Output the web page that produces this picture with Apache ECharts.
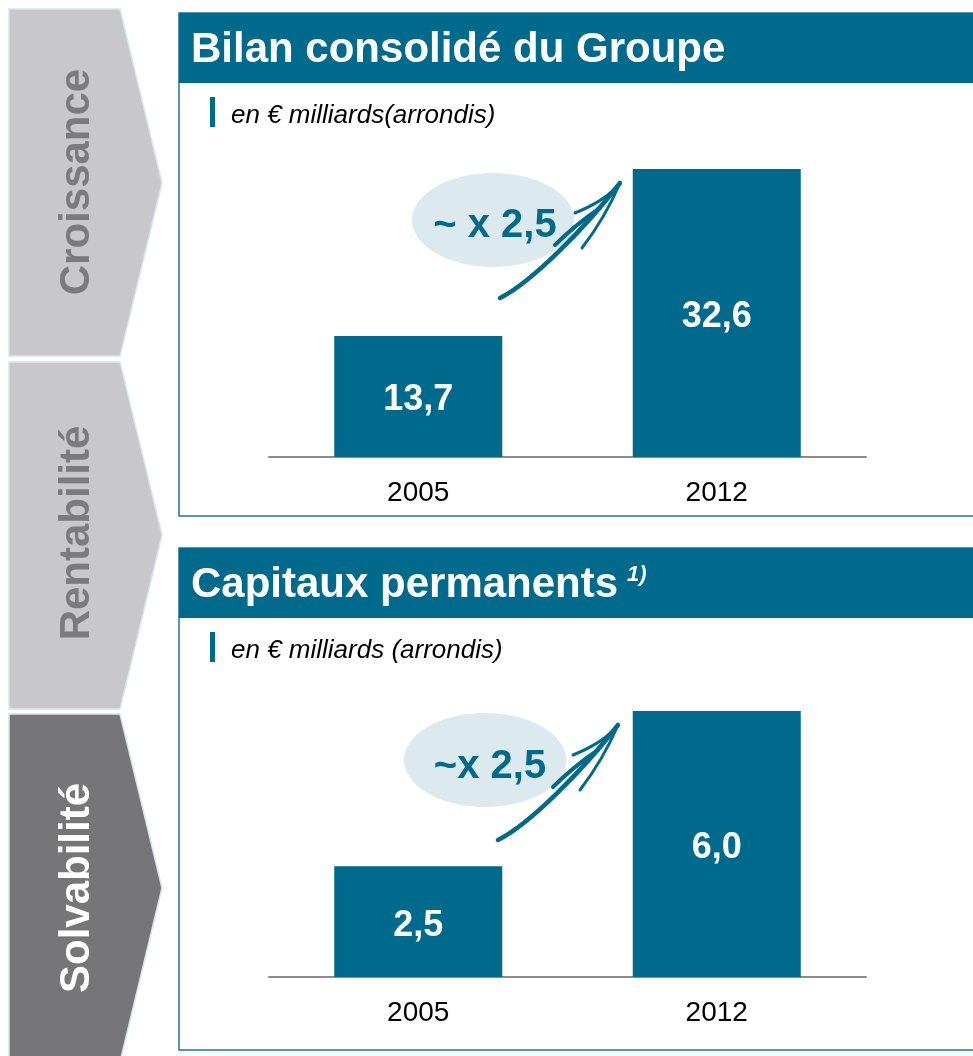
<!DOCTYPE html>
<html>
<head>
<meta charset="utf-8">
<title>Bilan consolidé / Capitaux permanents</title>
<script src="https://cdn.jsdelivr.net/npm/echarts@6/dist/echarts.min.js"></script>
<style>
  html, body { margin: 0; padding: 0; background: #fff; }
  #box { width: 973px; height: 1056px; }
</style>
</head>
<body>
<div id="box"></div>
<script>
// data
const years = ["2005", "2012"];
const bilanValues = [13.7, 32.6];
const capitauxValues = [2.5, 6.0];
const sideLabels = ["Croissance", "Rentabilité", "Solvabilité"];
const titles = ["Bilan consolidé du Groupe", "Capitaux permanents"];
const subtitles = ["en € milliards(arrondis)", "en € milliards (arrondis)"];
const growthLabels = ["~ x 2,5", "~x 2,5"];

const FONT = "'Liberation Sans', Arial, sans-serif";
const TEAL = "#006a8c";

function fmt(p) {
  return p.value.toFixed(1).replace(".", ",");
}

// chevrons on the left
function chevron(top, bottom, tipY, fill, textColor, label, textY) {
  return [
    {
      type: "polygon",
      shape: { points: [[9, top], [120, top], [162, tipY], [120, bottom], [9, bottom]] },
      style: { fill: fill, stroke: "#d6e6ec", lineWidth: 1.5 },
      z: 1
    },
    {
      type: "text",
      x: 77, y: textY,
      rotation: Math.PI / 2,
      style: {
        text: label, fill: textColor, font: "bold 42px " + FONT,
        align: "center", verticalAlign: "middle"
      },
      z: 2
    }
  ];
}

// panel frame with header + subtitle
function panel(top, bottom, title, sub) {
  return [
    {
      type: "rect",
      shape: { x: 179, y: top, width: 820, height: bottom - top },
      style: { fill: "none", stroke: "#1f779a", lineWidth: 1.5 },
      z: 1
    },
    {
      type: "rect",
      shape: { x: 179, y: top, width: 820, height: 70 },
      style: { fill: TEAL },
      z: 1
    },
    {
      type: "text", x: 191, y: top + 37,
      style: { text: title, fill: "#fff", font: "bold 42px " + FONT, verticalAlign: "middle" },
      z: 2
    },
    {
      type: "rect",
      shape: { x: 210, y: top + 84, width: 5, height: 30 },
      style: { fill: TEAL },
      z: 1
    },
    {
      type: "text", x: 231, y: top + 103,
      style: { text: sub, fill: "#000", font: "italic 26px " + FONT, verticalAlign: "middle" },
      z: 2
    }
  ];
}

// ellipse with the growth factor and the hand drawn arrow
function growth(cx, cy, label, tx, ty, dx, dy) {
  return [
    {
      type: "ellipse",
      shape: { cx: cx, cy: cy, rx: 81, ry: 47 },
      style: { fill: "#dce9ef" },
      z: 1
    },
    {
      type: "text", x: tx, y: ty,
      style: { text: label, fill: TEAL, font: "bold 40px " + FONT, align: "center", verticalAlign: "middle" },
      z: 2
    },
    {
      type: "bezierCurve",
      shape: { x1: 500 + dx, y1: 298 + dy, cpx1: 532 + dx, cpy1: 282 + dy, cpx2: 585 + dx, cpy2: 228 + dy, x2: 620 + dx, y2: 183 + dy },
      style: { stroke: TEAL, lineWidth: 4.5, fill: "none", lineCap: "round" },
      z: 3
    },
    {
      type: "bezierCurve",
      shape: { x1: 620 + dx, y1: 183 + dy, cpx1: 607 + dx, cpy1: 200 + dy, x2: 575 + dx, y2: 213 + dy },
      style: { stroke: TEAL, lineWidth: 3, fill: "none", lineCap: "round" },
      z: 3
    },
    {
      type: "bezierCurve",
      shape: { x1: 620 + dx, y1: 183 + dy, cpx1: 605 + dx, cpy1: 218 + dy, x2: 582 + dx, y2: 248 + dy },
      style: { stroke: TEAL, lineWidth: 3, fill: "none", lineCap: "round" },
      z: 3
    },
    {
      type: "bezierCurve",
      shape: { x1: 555 + dx, y1: 245 + dy, cpx1: 575 + dx, cpy1: 225 + dy, x2: 600 + dx, y2: 208 + dy },
      style: { stroke: TEAL, lineWidth: 4, fill: "none", lineCap: "round" },
      z: 3
    }
  ];
}

let graphics = []
  .concat(chevron(9, 356, 183, "#c8c8ca", "#7b7b7d", sideLabels[0], 182))
  .concat(chevron(362, 709, 535, "#c8c8ca", "#7b7b7d", sideLabels[1], 533))
  .concat(chevron(714, 1062, 888, "#767678", "#ffffff", sideLabels[2], 888))
  .concat(panel(13, 516, titles[0], subtitles[0]))
  .concat(panel(548, 1050, titles[1], subtitles[1]))
  .concat(growth(493, 220, growthLabels[0], 495, 226, 0, 0))
  .concat(growth(485, 760, growthLabels[1], 490, 767, -2, 542));

// superscript 1) after second title
graphics.push({
  type: "text", x: 627, y: 575,
  style: { text: "1)", fill: "#fff", font: "italic bold 22px " + FONT, verticalAlign: "middle" },
  z: 2
});

function xAx(idx) {
  return {
    type: "category",
    gridIndex: idx,
    data: years,
    axisTick: { show: false },
    axisLine: { lineStyle: { color: "#8c8c8c", width: 2 } },
    axisLabel: { color: "#000", fontSize: 28, fontFamily: FONT, margin: 22 }
  };
}

function yAx(idx) {
  return {
    type: "value",
    gridIndex: idx,
    min: 0,
    max: "dataMax",
    show: false,
    splitLine: { show: false }
  };
}

function barSeries(idx, data) {
  return {
    type: "bar",
    xAxisIndex: idx,
    yAxisIndex: idx,
    data: data,
    barWidth: 168,
    itemStyle: { color: TEAL },
    label: {
      show: true,
      position: "inside",
      offset: [0, 4],
      formatter: fmt,
      color: "#fff",
      fontSize: 36,
      fontWeight: "bold",
      fontFamily: FONT
    },
    z: 5
  };
}

let myChart = echarts.init(document.getElementById("box"));
let option = {
  animation: false,
  backgroundColor: "#fff",
  grid: [
    { left: 269, right: 107, top: 169, bottom: 599 },
    { left: 269, right: 107, top: 711, bottom: 79 }
  ],
  xAxis: [xAx(0), xAx(1)],
  yAxis: [yAx(0), yAx(1)],
  series: [barSeries(0, bilanValues), barSeries(1, capitauxValues)],
  graphic: graphics
};
myChart.setOption(option);
</script>
</body>
</html>
